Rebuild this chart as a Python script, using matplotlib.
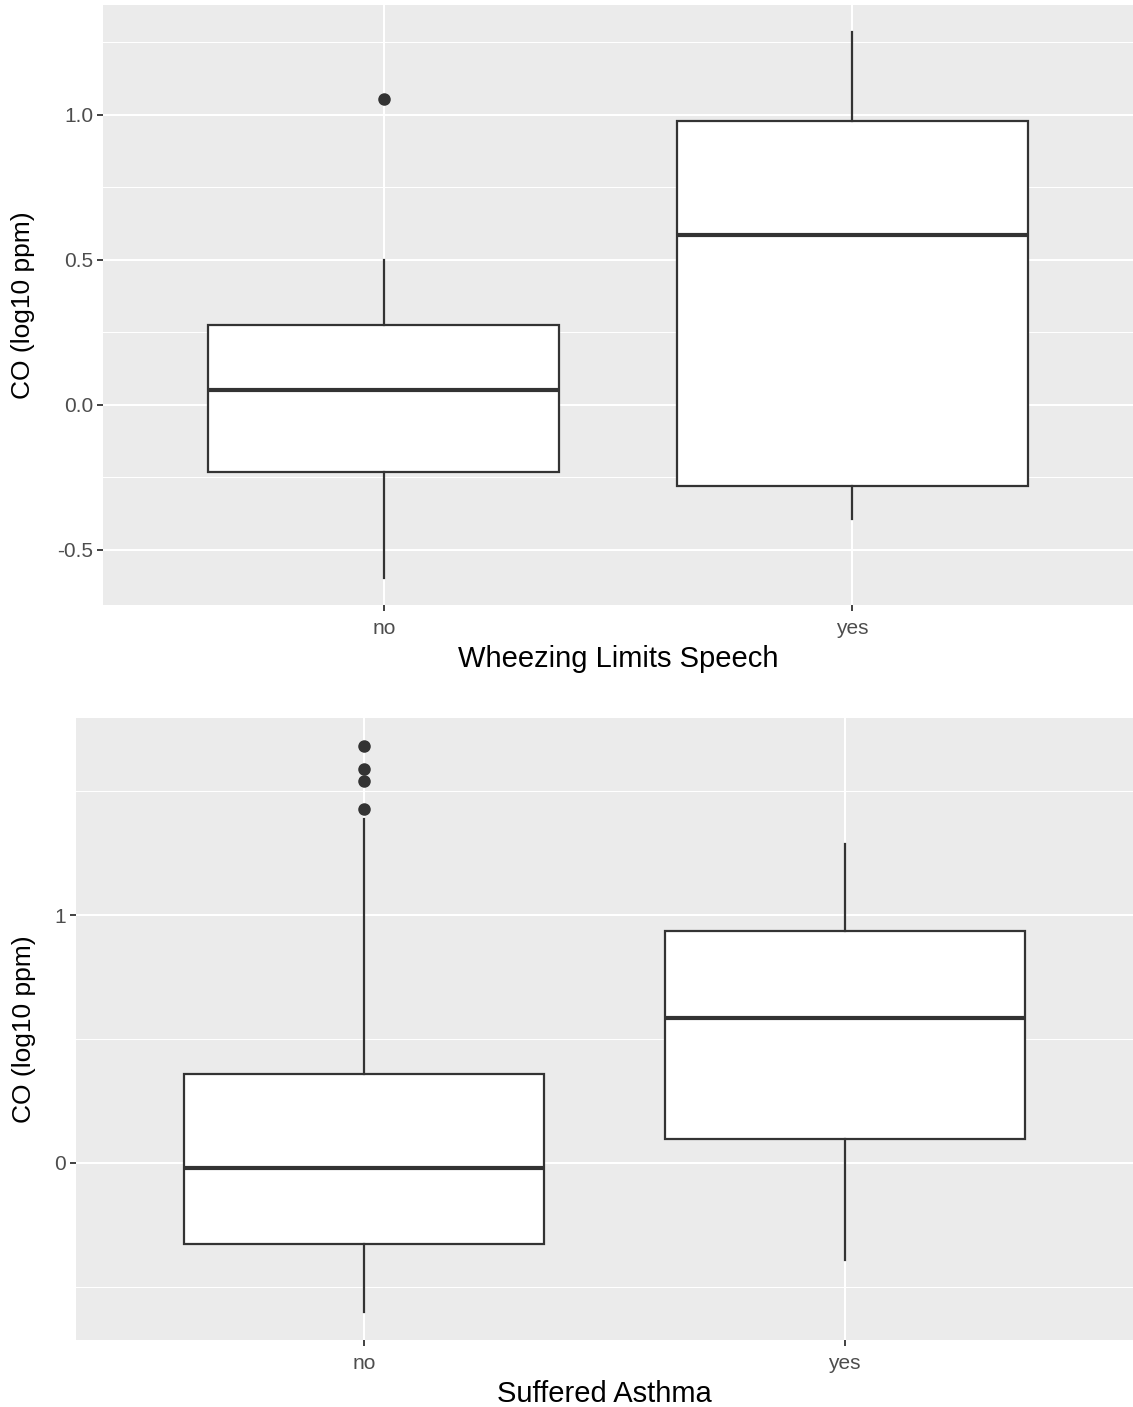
import matplotlib
matplotlib.use("Agg")
import matplotlib.pyplot as plt
from matplotlib.ticker import MultipleLocator

plt.rcParams['font.family'] = ['Liberation Sans', 'DejaVu Sans']

categories = ["no", "yes"]

# top panel: wheezing limits speech
wheeze_q1 = [-0.232, -0.281]
wheeze_med = [0.052, 0.586]
wheeze_q3 = [0.274, 0.979]
wheeze_lo = [-0.596, -0.395]
wheeze_hi = [0.499, 1.284]
wheeze_out = [[1.055], []]

# bottom panel: suffered asthma
asthma_q1 = [-0.327, 0.097]
asthma_med = [-0.020, 0.585]
asthma_q3 = [0.359, 0.935]
asthma_lo = [-0.601, -0.391]
asthma_hi = [1.387, 1.286]
asthma_out = [[1.681, 1.589, 1.540, 1.427], []]

W, H = 1133, 1407
fig = plt.figure(figsize=(W / 100, H / 100), dpi=100)

edge = "#333333"


def panel(rect, q1, med, q3, lo, hi, out, xlabel, major, minor, fmt, ylab_x, xlab_y):
    ax = fig.add_axes(rect)
    stats = []
    for i in range(len(categories)):
        stats.append(dict(med=med[i], q1=q1[i], q3=q3[i], whislo=lo[i],
                          whishi=hi[i], fliers=out[i]))
    ax.bxp(stats, positions=[1, 2], widths=0.75, patch_artist=True,
           showcaps=False,
           boxprops=dict(facecolor="white", edgecolor=edge, linewidth=1.6),
           medianprops=dict(color=edge, linewidth=3.0, solid_capstyle="butt"),
           whiskerprops=dict(color=edge, linewidth=1.6),
           flierprops=dict(marker="o", markerfacecolor=edge, markeredgecolor=edge,
                           markersize=8, linestyle="none"),
           zorder=3)

    # ggplot-style limits: 5% expansion on y, 0.6 on discrete x
    allv = lo + hi + [v for o in out for v in o]
    vmin, vmax = min(allv), max(allv)
    pad = (vmax - vmin) * 0.05
    ax.set_ylim(vmin - pad, vmax + pad)
    ax.set_xlim(0.4, 2.6)

    ax.set_facecolor("#EBEBEB")
    for s in ax.spines.values():
        s.set_visible(False)
    ax.yaxis.set_major_locator(MultipleLocator(major))
    ax.yaxis.set_minor_locator(MultipleLocator(minor))
    ax.yaxis.set_major_formatter(fmt)
    ax.set_xticks([1, 2])
    ax.set_xticklabels(categories)
    ax.grid(True, which="major", color="white", linewidth=1.5, zorder=0)
    ax.grid(True, which="minor", axis="y", color="white", linewidth=0.75, zorder=0)
    ax.set_axisbelow(True)
    ax.tick_params(which="major", length=4, width=1.3, color=edge, labelcolor="#4D4D4D",
                   labelsize=15, pad=3)
    ax.tick_params(axis="x", which="major", pad=6)
    ax.tick_params(which="minor", length=0)

    ax.set_ylabel("CO (log10 ppm)", fontsize=19, color="black")
    ax.set_xlabel(xlabel, fontsize=21, color="black")
    ax.yaxis.set_label_coords(ylab_x, 0.5)
    ax.xaxis.set_label_coords(0.5, xlab_y)
    return ax


panel([103 / W, 1 - 605 / H, 1030 / W, 600 / H],
      wheeze_q1, wheeze_med, wheeze_q3, wheeze_lo, wheeze_hi, wheeze_out,
      "Wheezing Limits Speech", 0.5, 0.25,
      lambda v, p: f"{v:.1f}", -0.066, -0.067)

panel([76 / W, 1 - 1340 / H, 1057 / W, 622 / H],
      asthma_q1, asthma_med, asthma_q3, asthma_lo, asthma_hi, asthma_out,
      "Suffered Asthma", 1.0, 0.5,
      lambda v, p: f"{v:.0f}", -0.038, -0.064)

fig.savefig("out.png", dpi=100)
